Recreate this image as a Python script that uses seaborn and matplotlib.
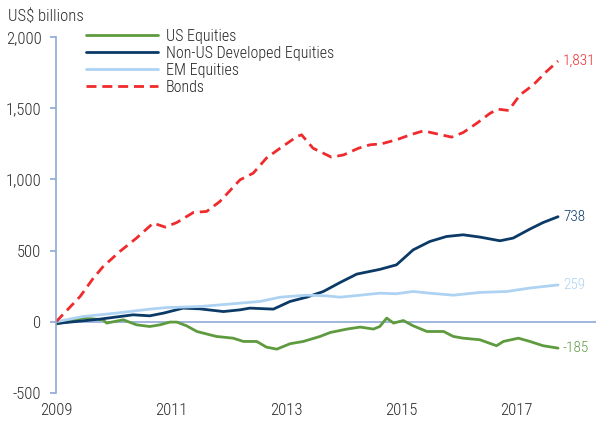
import pandas as pd
import seaborn as sns
import matplotlib.pyplot as plt

# Values (US$ billions, cumulative flows)
us_years = [2009.0, 2009.47, 2009.82, 2009.88, 2010.17, 2010.40, 2010.63, 2010.81, 2010.98, 2011.10,
            2011.27, 2011.45, 2011.79, 2012.08, 2012.26, 2012.49, 2012.66, 2012.84, 2013.07, 2013.30,
            2013.59, 2013.77, 2014.06, 2014.29, 2014.52, 2014.63, 2014.75, 2014.87, 2015.04, 2015.21,
            2015.45, 2015.74, 2015.91, 2016.08, 2016.37, 2016.66, 2016.78, 2017.04, 2017.24, 2017.47, 2017.73]
us_values = [-16, 26, 14, -9, 14, -21, -33, -21, -2, -2,
             -28, -68, -103, -115, -138, -138, -178, -192, -154, -138,
             -103, -75, -51, -37, -51, -33, 26, -9, 9, -28,
             -68, -68, -103, -115, -126, -168, -138, -115, -138, -168, -185]

dev_years = [2009.0, 2009.77, 2010.34, 2010.63, 2010.87, 2011.21, 2011.50, 2011.91, 2012.20, 2012.37,
             2012.78, 2013.07, 2013.36, 2013.65, 2013.94, 2014.23, 2014.63, 2014.92, 2015.21, 2015.50,
             2015.79, 2016.08, 2016.37, 2016.72, 2016.95, 2017.24, 2017.47, 2017.73]
dev_values = [-12, 19, 49, 42, 61, 96, 91, 72, 84, 96,
              89, 143, 173, 213, 276, 335, 368, 400, 505, 564,
              599, 611, 595, 569, 588, 651, 697, 738]

em_years = [2009.0, 2009.47, 2010.05, 2010.63, 2010.93, 2011.50, 2012.20, 2012.55, 2012.90, 2013.36,
            2013.71, 2013.94, 2014.17, 2014.63, 2014.92, 2015.21, 2015.50, 2015.91, 2016.37, 2016.84,
            2017.24, 2017.73]
em_values = [0, 37, 61, 89, 100, 107, 131, 143, 173, 187,
             182, 173, 182, 201, 197, 213, 201, 187, 206, 213,
             237, 259]

bond_years = [2009.0, 2009.42, 2009.65, 2009.82, 2010.11, 2010.40, 2010.69, 2010.90, 2011.10, 2011.39,
              2011.62, 2011.85, 2012.20, 2012.43, 2012.66, 2012.90, 2013.19, 2013.27, 2013.47, 2013.79,
              2014.0, 2014.26, 2014.46, 2014.66, 2014.92, 2015.16, 2015.39, 2015.62, 2015.88, 2016.08,
              2016.32, 2016.55, 2016.69, 2016.87, 2017.07, 2017.30, 2017.53, 2017.73]
bond_values = [0, 178, 307, 388, 494, 588, 693, 665, 697, 768,
               775, 845, 997, 1044, 1150, 1220, 1301, 1313, 1219, 1156,
               1172, 1219, 1243, 1250, 1278, 1313, 1341, 1320, 1297, 1329,
               1395, 1465, 1493, 1484, 1594, 1664, 1758, 1831]

end_labels = ["-185", "738", "259", "1,831"]
year_ticks = [2009, 2011, 2013, 2015, 2017]
value_ticks = [-500, 0, 500, 1000, 1500, 2000]

# series: name, years, values, colour, dashed
series = [
    ("US Equities", us_years, us_values, "#5E9A3E", False),
    ("Non-US Developed Equities", dev_years, dev_values, "#0B3A66", False),
    ("EM Equities", em_years, em_values, "#AED3F2", False),
    ("Bonds", bond_years, bond_values, "#EF2B2D", True),
]

sns.set_style("white")
plt.rcParams["font.family"] = ["Roboto Condensed", "Liberation Sans", "DejaVu Sans"]
plt.rcParams["font.weight"] = "light"

fig = plt.figure(figsize=(5.96, 4.23), dpi=100)
ax = fig.add_axes([56 / 596, 30 / 423, 540 / 596, 356 / 423])
axis_col = "#8FAAD8"
text_col = "#2B2B2B"

for (name, xs, ys, col, dashed), lab in zip(series, end_labels):
    df = pd.DataFrame({"year": xs, "value": ys})
    sns.lineplot(data=df, x="year", y="value", ax=ax, color=col, linewidth=2.0,
                 label=name, estimator=None, sort=False)
    if dashed:
        ax.lines[-1].set_dashes([3.6, 2.1])
    ax.annotate(lab, xy=(xs[-1], ys[-1]), xytext=(3.5, 0), textcoords="offset points",
                color=col, fontsize=11, va="center", ha="left")

ax.axhline(0, color=axis_col, linewidth=1.2, zorder=0)
ax.set_xlim(2009, 2018.39)
ax.set_ylim(-500, 2000)
ax.set_xticks(year_ticks)
ax.set_yticks(value_ticks)
ax.set_yticklabels([f"{v:,}" for v in value_ticks])
ax.set_xlabel("")
ax.set_ylabel("")

for side in ["top", "right", "bottom"]:
    ax.spines[side].set_visible(False)
ax.spines["left"].set_color(axis_col)
ax.spines["left"].set_linewidth(1.2)
ax.tick_params(axis="y", left=True, length=4.5, width=1.2, color=axis_col, pad=6,
               labelsize=12, labelcolor=text_col)
ax.tick_params(axis="x", bottom=False, length=0, pad=7, labelsize=12, labelcolor=text_col)

ax.legend(loc="upper left", bbox_to_anchor=(86 / 596, 1 - 29 / 423), bbox_transform=fig.transFigure,
          frameon=False, fontsize=11.5, handlelength=4.5, handletextpad=0.5, labelspacing=0.12,
          borderpad=0, borderaxespad=0)

fig.text(8 / 596, 1 - 16 / 423, "US$ billions", fontsize=12, va="center", ha="left", color=text_col)

fig.savefig("out.png", dpi=100)
